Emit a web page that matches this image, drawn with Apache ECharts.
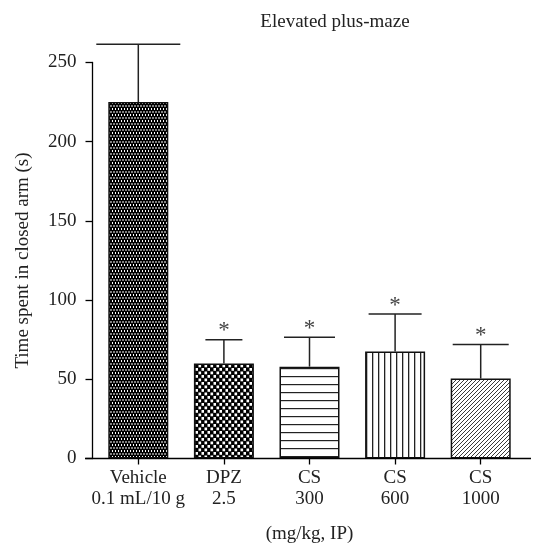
<!DOCTYPE html>
<html><head><meta charset="utf-8">
<script src="https://cdn.jsdelivr.net/npm/echarts@6/dist/echarts.min.js"></script>
<style>html,body{margin:0;padding:0;background:#fff}#c{width:536px;height:546px}</style>
</head><body><div id="c"></div>
<script>
// ---- data ----
var categories = ['Vehicle\n0.1 mL/10 g', 'DPZ\n2.5', 'CS\n300', 'CS\n600', 'CS\n1000'];
var means = [225, 60, 58, 67.5, 50.5];
var upperErr = [261.5, 75, 76.5, 91.2, 72];
var stars = ['', '*', '*', '*', '*'];
var yTicks = [0, 50, 100, 150, 200, 250];

// ---- styles ----
var capWidths = [84, 37, 51, 53, 56];
var FONT = '"Liberation Serif", "DejaVu Serif", serif';
var FS = 19;

function mk(w, h, draw) {
  var c = document.createElement('canvas'); c.width = w; c.height = h;
  var g = c.getContext('2d'); draw(g, w, h); return c;
}
var patVehicle = mk(6, 6, function (g) {
  g.fillStyle = '#000'; g.fillRect(0, 0, 6, 6);
  g.fillStyle = '#fff';
  g.fillRect(1, 0, 1, 2); g.fillRect(4, 0, 1, 2);
  g.fillRect(2.5, 3, 1, 2); g.fillRect(5.5, 3, 1, 2); g.fillRect(-0.5, 3, 1, 2);
});
var patDPZ = mk(6, 7, function (g) {
  g.fillStyle = '#000'; g.fillRect(0, 0, 6, 7);
  g.fillStyle = '#fff';
  g.fillRect(0.5, 0.5, 2.6, 2.8); g.fillRect(3.5, 4, 2.6, 2.8);
});
var patH = mk(8, 8, function (g) {
  g.fillStyle = '#fff'; g.fillRect(0, 0, 8, 8);
  g.fillStyle = '#222'; g.fillRect(0, 0, 8, 1.2);
});
var patV = mk(6, 6, function (g) {
  g.fillStyle = '#fff'; g.fillRect(0, 0, 6, 6);
  g.fillStyle = '#222'; g.fillRect(0, 0, 1.3, 6);
});
var patD = mk(4, 4, function (g) {
  g.fillStyle = '#fff'; g.fillRect(0, 0, 4, 4);
  g.strokeStyle = '#222'; g.lineWidth = 0.9;
  g.beginPath();
  g.moveTo(-1, 5); g.lineTo(5, -1);
  g.moveTo(-1, 1); g.lineTo(1, -1);
  g.moveTo(3, 5); g.lineTo(5, 3);
  g.stroke();
});
var patterns = [patVehicle, patDPZ, patH, patV, patD];

var chart = echarts.init(document.getElementById('c'), null, {renderer: 'canvas'});
var barData = means.map(function (v, i) {
  return {value: v, itemStyle: {color: {image: patterns[i], repeat: 'repeat'}}};
});
var errData = means.map(function (v, i) { return [i, v, upperErr[i]]; });

chart.setOption({
  animation: false,
  backgroundColor: '#fff',
  title: {
    text: 'Elevated plus-maze', left: 330, top: 8, textAlign: 'center',
    textStyle: {fontFamily: FONT, fontSize: FS, fontWeight: 'normal', color: '#222'}
  },
  grid: {left: 95.5, right: 12.5, top: 62.5, bottom: 87.5, containLabel: false, outerBoundsMode: 'none'},
  xAxis: {
    type: 'category', data: categories,
    name: '(mg/kg, IP)', nameLocation: 'middle', nameGap: 66,
    nameTextStyle: {fontFamily: FONT, fontSize: FS, color: '#222'},
    axisLine: {show: false},
    axisTick: {show: true, alignWithLabel: true, length: 6, lineStyle: {color: '#000', width: 1.3}},
    axisLabel: {fontFamily: FONT, fontSize: FS, color: '#222', lineHeight: 21, margin: 9, interval: 0}
  },
  yAxis: {
    type: 'value', min: yTicks[0], max: yTicks[yTicks.length - 1], interval: 50, offset: 3,
    name: 'Time spent in closed arm (s)', nameLocation: 'middle', nameGap: 60,
    nameTextStyle: {fontFamily: FONT, fontSize: FS, color: '#222'},
    axisLine: {show: true, lineStyle: {color: '#000', width: 1.3}},
    axisTick: {show: true, length: 7, lineStyle: {color: '#000', width: 1.3}},
    axisLabel: {fontFamily: FONT, fontSize: FS, color: '#222', margin: 16},
    splitLine: {show: false}
  },
  series: [
    {
      type: 'bar', data: barData, barWidth: 60, z: 2,
      itemStyle: {borderColor: '#111', borderWidth: 1.5}
    },
    {
      type: 'custom', data: errData, z: 3, clip: false,
      renderItem: function (params, api) {
        var i = api.value(0);
        var top = api.coord([i, api.value(2)]);
        var base = api.coord([i, api.value(1)]);
        var hw = capWidths[params.dataIndex] / 2;
        var st = {stroke: '#222', lineWidth: 1.5};
        var ch = [
          {type: 'line', shape: {x1: top[0], y1: base[1], x2: top[0], y2: top[1]}, style: st},
          {type: 'line', shape: {x1: top[0] - hw, y1: top[1], x2: top[0] + hw, y2: top[1]}, style: st}
        ];
        var s = stars[params.dataIndex];
        if (s) {
          ch.push({type: 'text', style: {text: s, x: top[0], y: top[1] + 3,
            align: 'center', verticalAlign: 'bottom',
            font: '23px ' + FONT, fill: '#444'}});
        }
        return {type: 'group', children: ch};
      }
    }
  ]
});

// x-axis baseline spanning the full width as in the original figure
var y0 = chart.convertToPixel({yAxisIndex: 0}, 0);
chart.setOption({
  graphic: [{type: 'line', shape: {x1: 85, y1: y0, x2: 531, y2: y0},
    style: {stroke: '#000', lineWidth: 1.3}, z: 10}]
});
</script></body></html>
